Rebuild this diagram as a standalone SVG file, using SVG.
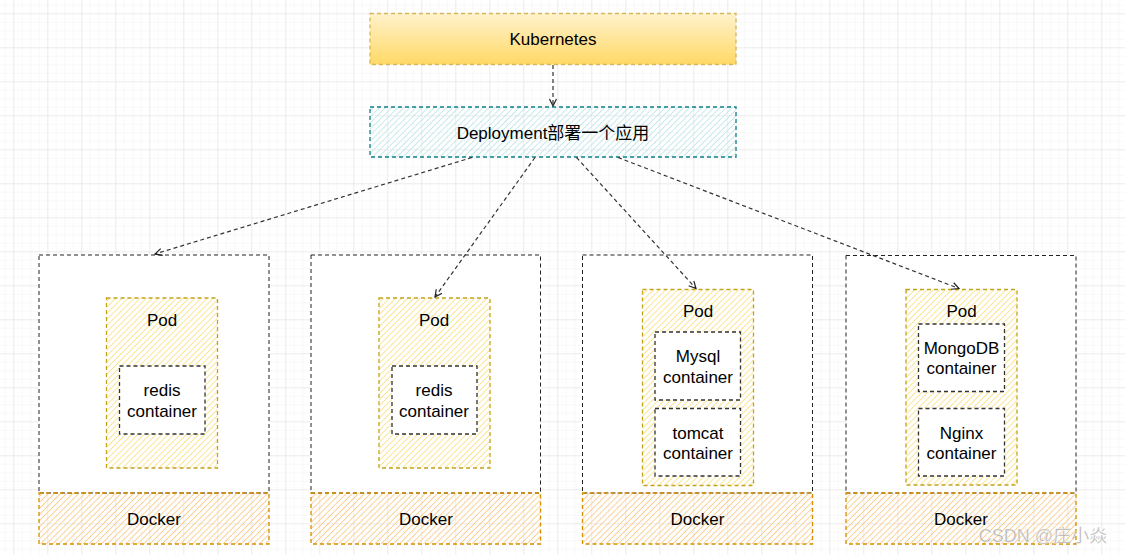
<svg xmlns="http://www.w3.org/2000/svg" width="1125" height="555" viewBox="0 0 1125 555">
<style>
text{font-family:"Liberation Sans",Arial,"Noto Sans CJK SC",sans-serif;font-size:17px;fill:#000;text-anchor:middle;dominant-baseline:central}
.server{fill:#fff;stroke:#222;stroke-width:1;stroke-dasharray:4 3}
.pod{fill:url(#hPod);stroke:#c4a31c;stroke-width:1.3;stroke-dasharray:4 3}
.ctr{fill:#fff;stroke:#333;stroke-width:1.3;stroke-dasharray:4 3}
.docker{fill:url(#hDock);stroke:#d38f00;stroke-width:1.3;stroke-dasharray:4 3}
.edge{fill:none;stroke:#333;stroke-width:1.2;stroke-dasharray:4 3;marker-end:url(#arr)}
.wm{font-size:18px;fill:#a8a8a8;fill-opacity:0.9;stroke:#fff;stroke-width:0.5;stroke-opacity:0.7}
</style>
<defs>
<pattern id="gridMinor" width="8.5" height="8.5" patternUnits="userSpaceOnUse" x="13.3" y="13.3">
<path d="M0 0H8.5M0 0V8.5" fill="none" stroke="#f2f2f2" stroke-width="1"/>
</pattern>
<pattern id="gridMajor" width="34" height="34" patternUnits="userSpaceOnUse" x="13.3" y="13.3">
<path d="M0 0H34M0 0V34" fill="none" stroke="#e2e2e2" stroke-width="1"/>
</pattern>
<linearGradient id="kGrad" x1="0" y1="0" x2="0" y2="1">
<stop offset="0" stop-color="#fff2cc"/>
<stop offset="1" stop-color="#ffd966"/>
</linearGradient>
<pattern id="hPod" width="4.3" height="10" patternUnits="userSpaceOnUse" patternTransform="rotate(45)">
<line x1="0" y1="0" x2="0" y2="10" stroke="#f9dc6a" stroke-width="1.4"/>
</pattern>
<pattern id="hDock" width="4.3" height="10" patternUnits="userSpaceOnUse" patternTransform="rotate(45)">
<line x1="0" y1="0" x2="0" y2="10" stroke="#fbc270" stroke-width="1.4"/>
</pattern>
<pattern id="hDep" width="4.3" height="10" patternUnits="userSpaceOnUse" patternTransform="rotate(45)">
<line x1="0" y1="0" x2="0" y2="10" stroke="#ade0e4" stroke-width="1.3"/>
</pattern>
<marker id="arr" markerWidth="10" markerHeight="10" refX="8" refY="4" orient="auto" markerUnits="userSpaceOnUse">
<path d="M1 0.5L8 4L1 7.5" fill="none" stroke="#222" stroke-width="1.2"/>
</marker>
</defs>
<rect width="1125" height="555" fill="#fff"/>
<rect width="1125" height="555" fill="url(#gridMinor)"/>
<rect width="1125" height="555" fill="url(#gridMajor)"/>

<g id="kubernetes">
<rect x="370" y="13.5" width="366" height="51" fill="url(#kGrad)" stroke="#d6b656" stroke-width="1.3" stroke-dasharray="4 3"/>
<text x="553" y="39">Kubernetes</text>
</g>

<g id="deployment">
<rect x="370" y="107" width="366" height="50" fill="url(#hDep)" stroke="#0e8088" stroke-width="1.3" stroke-dasharray="4 3"/>
<text x="553" y="133">Deployment部署一个应用</text>
</g>

<g id="server1">
<rect class="server" x="39" y="255" width="230" height="238"/>
<rect class="docker" x="39" y="493" width="230" height="51"/>
<text x="154" y="519">Docker</text>
<rect class="pod" x="106.5" y="298" width="111" height="170"/>
<text x="162" y="320">Pod</text>
<rect class="ctr" x="119.5" y="366" width="85.5" height="68"/>
<text x="162" y="390">redis</text>
<text x="162" y="411">container</text>
</g>

<g id="server2">
<rect class="server" x="311" y="255" width="229.5" height="238"/>
<rect class="docker" x="311" y="493" width="229.5" height="51"/>
<text x="426" y="519">Docker</text>
<rect class="pod" x="379" y="298" width="111" height="170"/>
<text x="434" y="320">Pod</text>
<rect class="ctr" x="392" y="366" width="85" height="68"/>
<text x="434" y="390">redis</text>
<text x="434" y="411">container</text>
</g>

<g id="server3">
<rect class="server" x="582.5" y="255" width="230" height="238"/>
<rect class="docker" x="582.5" y="493" width="230" height="51"/>
<text x="697.5" y="519">Docker</text>
<rect class="pod" x="642.5" y="289.5" width="111" height="196"/>
<text x="698" y="311">Pod</text>
<rect class="ctr" x="655" y="332" width="85.5" height="68"/>
<text x="698" y="356">Mysql</text>
<text x="698" y="377">container</text>
<rect class="ctr" x="655" y="408.5" width="85.5" height="67.5"/>
<text x="698" y="433">tomcat</text>
<text x="698" y="453">container</text>
</g>

<g id="server4">
<rect class="server" x="846" y="255.5" width="230" height="237.5"/>
<rect class="docker" x="846" y="493" width="230" height="51"/>
<text x="961" y="519">Docker</text>
<rect class="pod" x="906" y="289.5" width="111" height="195.5"/>
<text x="961.5" y="311">Pod</text>
<rect class="ctr" x="918.5" y="324" width="86" height="67.5"/>
<text x="961.5" y="348">MongoDB</text>
<text x="961.5" y="368">container</text>
<rect class="ctr" x="918.5" y="408.5" width="86" height="67.5"/>
<text x="961.5" y="433">Nginx</text>
<text x="961.5" y="453">container</text>
</g>

<g id="connectors">
<line class="edge" x1="553" y1="65" x2="553" y2="106"/>
<line class="edge" x1="472" y1="157.5" x2="155" y2="254"/>
<line class="edge" x1="535" y1="157.5" x2="435" y2="297"/>
<line class="edge" x1="576.5" y1="157.5" x2="696" y2="288.5"/>
<line class="edge" x1="618" y1="157.5" x2="959" y2="288.5"/>
</g>

<text class="wm" x="1043" y="536">CSDN @庄小焱</text>
</svg>
